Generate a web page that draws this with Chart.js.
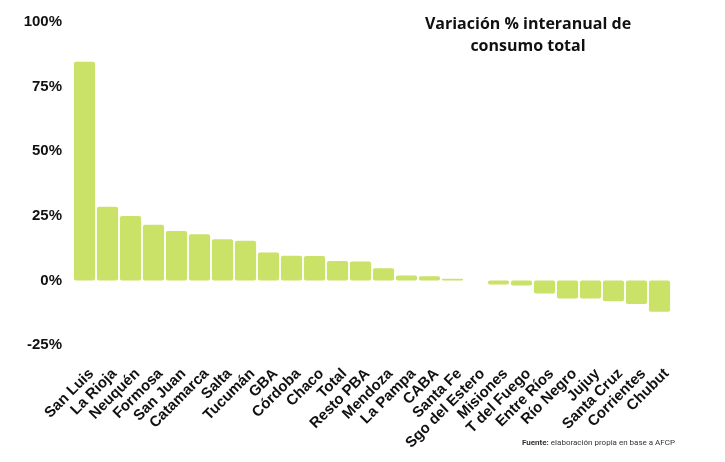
<!DOCTYPE html>
<html>
<head>
<meta charset="utf-8">
<script src="https://cdn.jsdelivr.net/npm/chart.js@4/dist/chart.umd.min.js"></script>
<style>
  html, body { margin: 0; padding: 0; background: #fff; }
  #wrap { position: relative; width: 725px; height: 462px; }
  #title {
    position: absolute; left: 408px; top: 12px; width: 240px;
    text-align: center; font: bold 16px "Open Sans", sans-serif;
    line-height: 22px; color: #111;
  }
  #source {
    position: absolute; left: 522px; top: 438px;
    font: 8px Roboto, sans-serif; color: #333;
  }
</style>
</head>
<body>
<div id="wrap">
  <canvas id="myChart" width="725" height="462"></canvas>
  <div id="title">Variación % interanual de<br>consumo total</div>
  <div id="source"><b>Fuente:</b> elaboración propia en base a AFCP</div>
</div>
<script>
const provincias = ['San Luis', 'La Rioja', 'Neuquén', 'Formosa', 'San Juan', 'Catamarca', 'Salta',
    'Tucumán', 'GBA', 'Córdoba', 'Chaco', 'Total', 'Resto PBA', 'Mendoza', 'La Pampa', 'CABA',
    'Santa Fe', 'Sgo del Estero', 'Misiones', 'T del Fuego', 'Entre Ríos', 'Río Negro', 'Jujuy',
    'Santa Cruz', 'Corrientes', 'Chubut'];
const variacion = [84.6, 28.5, 24.9, 21.5, 19.1, 17.9, 15.9, 15.3, 10.8, 9.5, 9.4, 7.5, 7.3,
    4.7, 1.9, 1.6, 0.6, 0, -1.6, -2.0, -5.1, -7.0, -7.0, -8.1, -9.1, -12.1];
const yTicks = [-25, 0, 25, 50, 75, 100];

const boldFont = { family: '"Liberation Sans", Arial, sans-serif', size: 15, weight: 'bold' };

new Chart(document.getElementById('myChart').getContext('2d'), {
    type: 'bar',
    data: {
        labels: provincias,
        datasets: [{
            data: variacion,
            backgroundColor: '#c9e267',
            borderRadius: 2,
            borderSkipped: false,
            barPercentage: 0.92,
            categoryPercentage: 1
        }]
    },
    options: {
        responsive: false,
        animation: false,
        layout: { padding: { top: 22, right: 54, left: 0, bottom: 0 } },
        plugins: { legend: { display: false }, title: { display: false }, tooltip: { enabled: false } },
        scales: {
            x: {
                grid: { display: false },
                border: { display: false },
                ticks: {
                    color: '#111',
                    font: boldFont,
                    maxRotation: 45,
                    minRotation: 45,
                    autoSkip: false,
                    padding: 12,
                    labelOffset: 7
                },
                afterFit(scale) { scale.height = 117; }
            },
            y: {
                min: -25,
                max: 100,
                grid: { display: false },
                border: { display: false },
                afterBuildTicks(scale) { scale.ticks = yTicks.map(v => ({ value: v })); },
                ticks: {
                    color: '#111',
                    font: boldFont,
                    padding: 3,
                    callback: v => v + '%'
                },
                afterFit(scale) { scale.width = 73; }
            }
        }
    }
});
</script>
</body>
</html>
